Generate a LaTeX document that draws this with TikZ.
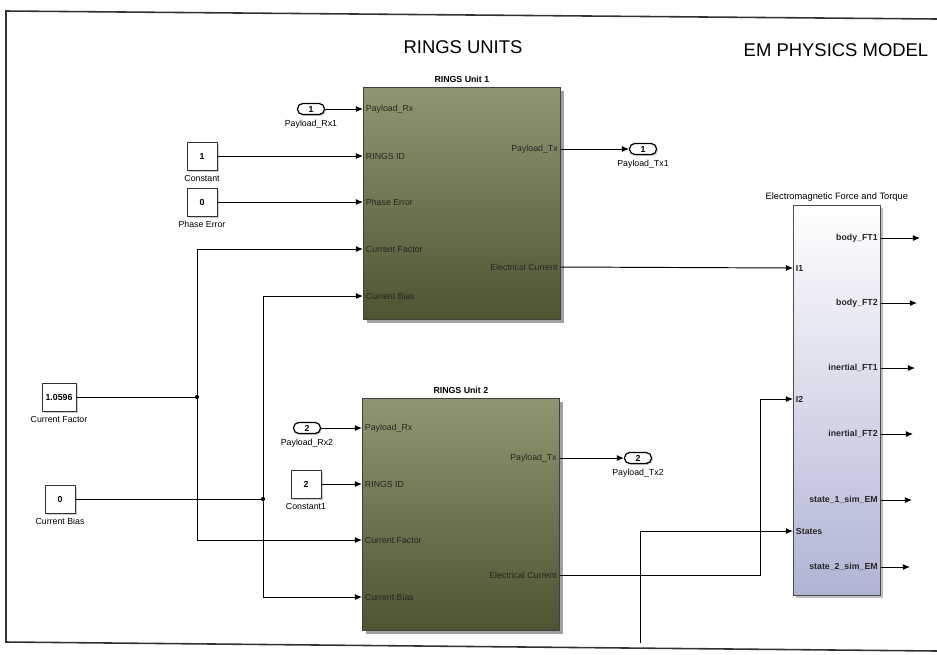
\documentclass[tikz,border=0pt]{standalone}
\usepackage{fontspec}
\setmainfont{Liberation Sans}
\usepackage{tikz}
\usetikzlibrary{arrows.meta,positioning,shadows}
\definecolor{unitTop}{RGB}{146,150,112}
\definecolor{unitBot}{RGB}{76,84,50}
\definecolor{emBot}{RGB}{176,180,212}
\newcommand{\simfont}{\fontsize{5}{6}\selectfont}

\begin{document}
\begin{tikzpicture}[x=0.02cm, y=-0.02cm,
    sig/.style={line width=0.55pt, -{Latex[length=4pt,width=3.4pt]}},
    wire/.style={line width=0.55pt},
    unitblock/.style={rectangle, draw=black!75, top color=unitTop, bottom color=unitBot, minimum width=3.94cm, minimum height=4.64cm, anchor=north west, drop shadow={shadow xshift=2pt, shadow yshift=-2pt, opacity=0.75}},
    emblock/.style={rectangle, draw=black!70, top color=white, bottom color=emBot, minimum width=1.74cm, minimum height=7.8cm, anchor=north west, drop shadow={shadow xshift=1.5pt, shadow yshift=-1.5pt, opacity=0.5}},
    constblock/.style={rectangle, draw=black!80, fill=white, minimum width=0.6cm, minimum height=0.56cm, inner sep=0pt, font=\simfont\bfseries, drop shadow={shadow xshift=1pt, shadow yshift=-1pt, opacity=0.4}},
    iopill/.style={rectangle, draw=black, line width=0.7pt, fill=white, rounded corners=3pt, minimum width=0.54cm, minimum height=0.22cm, inner sep=0pt, font=\simfont\bfseries, drop shadow={shadow xshift=0.8pt, shadow yshift=-0.8pt, opacity=0.4}},
    blabel/.style={font=\simfont, inner sep=0.5pt},
    portin/.style={font=\simfont, anchor=west, text=black!85, inner sep=1.5pt},
    portout/.style={font=\simfont, anchor=east, text=black!85, inner sep=1.5pt},
    blocktitle/.style={font=\simfont\bfseries, inner sep=0.5pt},
    title/.style={font=\fontsize{10.5}{12}\selectfont},
    junction/.style={circle, fill=black, inner sep=0pt, minimum size=2.4pt}
]
\useasboundingbox (0,0) rectangle (937,654);

% frame of the screenshot
\draw[line width=0.9pt, black!80] (937,19) -- (6,11) -- (6,642) -- (937,651);

% titles
\node[title] (ringstitle) at (463,47) {RINGS UNITS};
\node[title] (emtitle) at (836,50) {EM PHYSICS MODEL};

% RINGS units
\node[unitblock] (unit1) at (363,87) {};
\node[blocktitle, above=2pt of unit1] (unit1title) {RINGS Unit 1};
\node[unitblock] (unit2) at (362,398) {};
\node[blocktitle, above=2pt of unit2] (unit2title) {RINGS Unit 2};

% EM physics block
\node[emblock] (em) at (793,205) {};
\node[font=\fontsize{5.3}{6}\selectfont, inner sep=0.5pt, above=1.5pt of em] (emname) {Electromagnetic Force and Torque};

% unit ports
\foreach \y/\lab/\nm in {109/Payload\_Rx/rx, 156/RINGS ID/id, 202/Phase Error/pe, 249/Current Factor/cf, 296/Current Bias/cb} {
  \coordinate (u1\nm) at (unit1.west |- 0,\y);
  \node[portin] (u1\nm l) at (u1\nm) {\lab};
}
\foreach \y/\lab/\nm in {149/Payload\_Tx/tx, 267/Electrical Current/ec} {
  \coordinate (u1\nm) at (unit1.east |- 0,\y);
  \node[portout] (u1\nm l) at (u1\nm) {\lab};
}
\foreach \y/\lab/\nm in {428/Payload\_Rx/rx, 484/RINGS ID/id, 540/Current Factor/cf, 597/Current Bias/cb} {
  \coordinate (u2\nm) at (unit2.west |- 0,\y);
  \node[portin] (u2\nm l) at (u2\nm) {\lab};
}
\foreach \y/\lab/\nm in {458/Payload\_Tx/tx, 575/Electrical Current/ec} {
  \coordinate (u2\nm) at (unit2.east |- 0,\y);
  \node[portout] (u2\nm l) at (u2\nm) {\lab};
}

% EM ports
\foreach \y/\lab/\nm in {268/I1/ia, 399/I2/ib, 531/States/st} {
  \coordinate (em\nm) at (em.west |- 0,\y);
  \node[portin, font=\simfont\bfseries] (em\nm l) at (em\nm) {\lab};
}
\foreach \y/\e/\lab [count=\i] in {238/920/body\_FT1, 303/917/body\_FT2, 368/915/inertial\_FT1, 434/913/inertial\_FT2, 500/912/state\_1\_sim\_EM, 567/910/state\_2\_sim\_EM} {
  \coordinate (emout\i) at (em.east |- 0,\y);
  \coordinate (emend\i) at (\e,\y);
  \node[portout, font=\simfont\bfseries] (emout\i l) at (emout\i) {\lab};
  \draw[sig] (emout\i) -- (emend\i);
}

% sources for unit 1
\node[iopill] (rx1) at (311,109) {1};
\node[blabel, below=2pt of rx1] (rx1l) {Payload\_Rx1};
\node[constblock] (const1) at (202,156) {1};
\node[blabel, below=2pt of const1] (const1l) {Constant};
\node[constblock] (phase) at (202,202) {0};
\node[blabel, below=2pt of phase] (phasel) {Phase Error};

% shared sources
\node[constblock, minimum width=0.68cm] (cfact) at (59,397) {1.0596};
\node[blabel, below=2pt of cfact] (cfactl) {Current Factor};
\node[constblock] (cbias) at (60,499) {0};
\node[blabel, below=2pt of cbias] (cbiasl) {Current Bias};
\node[junction] (jcf) at (197,397) {};
\node[junction] (jcb) at (263,499) {};

% sources for unit 2
\node[iopill] (rx2) at (307,428) {2};
\node[blabel, below=2pt of rx2] (rx2l) {Payload\_Rx2};
\node[constblock] (const2) at (306,484) {2};
\node[blabel, below=2pt of const2] (const2l) {Constant1};

% outports
\node[iopill] (tx1) at (643,149) {1};
\node[blabel, below=2pt of tx1] (tx1l) {Payload\_Tx1};
\node[iopill] (tx2) at (638,458) {2};
\node[blabel, below=2pt of tx2] (tx2l) {Payload\_Tx2};

% signals into the units
\draw[sig] (rx1) -- (u1rx);
\draw[sig] (const1) -- (u1id);
\draw[sig] (phase) -- (u1pe);
\draw[sig] (rx2) -- (u2rx);
\draw[sig] (const2) -- (u2id);
\draw[wire] (cfact) -- (jcf);
\draw[sig] (jcf.center) |- (u1cf);
\draw[sig] (jcf.center) |- (u2cf);
\draw[wire] (cbias) -- (jcb);
\draw[sig] (jcb.center) |- (u1cb);
\draw[sig] (jcb.center) |- (u2cb);

% signals out of the units
\draw[sig] (u1tx) -- (tx1);
\draw[sig] (u2tx) -- (tx2);
\draw[sig] (u1ec) -- (emia);
\coordinate (ecbend) at (760,575);
\draw[sig] (u2ec) -- (ecbend) |- (emib);
\coordinate (statesrc) at (640,643);
\draw[sig] (statesrc) |- (emst);

\end{tikzpicture}
\end{document}
